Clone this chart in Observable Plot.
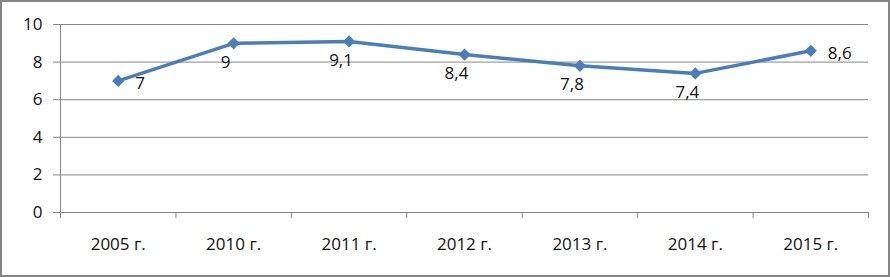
<!DOCTYPE html>
<html>
<head>
<meta charset="utf-8">
<script src="https://cdn.jsdelivr.net/npm/d3@7"></script>
<script src="https://cdn.jsdelivr.net/npm/@observablehq/plot@0.6"></script>
<style>
  html, body { margin: 0; padding: 0; background: #fff; }
  svg { display: block; outline: 2px solid #858585; outline-offset: -2px; }
</style>
</head>
<body>
<div id="chart"></div>
<script>
const categories = ["2005 г.", "2010 г.", "2011 г.", "2012 г.", "2013 г.", "2014 г.", "2015 г."];
const values = [7, 9, 9.1, 8.4, 7.8, 7.4, 8.6];
const valueLabels = ["7", "9", "9,1", "8,4", "7,8", "7,4", "8,6"];
const yTicks = [0, 2, 4, 6, 8, 10];

const data = categories.map((c, i) => ({ i, x: i + 0.5, cat: c, v: values[i], label: valueLabels[i] }));
const sideLabels = data.filter(d => d.i === 0 || d.i === categories.length - 1);
const belowLabels = data.filter(d => !(d.i === 0 || d.i === categories.length - 1));

const blue = "#4A7EBB";
const grid = "#868686";
const font = "'Open Sans', sans-serif";
const fs = 17;

const chart = Plot.plot({
  width: 890,
  height: 277,
  marginLeft: 60,
  marginRight: 22,
  marginTop: 24,
  marginBottom: 65,
  style: { fontFamily: font, fontSize: fs + "px", color: "#111", background: "#fff" },
  x: { type: "linear", domain: [0, categories.length] },
  y: { domain: [0, 10] },
  marks: [
    Plot.ruleY(yTicks, { stroke: grid, strokeWidth: 1 }),
    Plot.ruleX([0], { stroke: grid, strokeWidth: 1 }),
    Plot.axisY({ ticks: yTicks, tickSize: 7, tickPadding: 11, stroke: grid, label: null, fontSize: fs }),
    Plot.axisX({ ticks: d3.range(categories.length + 1), tickSize: 6, stroke: grid, tickFormat: () => "", label: null }),
    Plot.axisX({ ticks: data.map(d => d.x), tickSize: 0, tickPadding: 25, tickFormat: (t) => categories[Math.floor(t)], label: null, fontSize: fs }),
    Plot.line(data, { x: "x", y: "v", stroke: blue, strokeWidth: 3.5 }),
    Plot.dot(data, { x: "x", y: "v", symbol: "diamond2", r: 5.5, fill: blue, stroke: null }),
    Plot.text(sideLabels, { x: "x", y: "v", text: "label", textAnchor: "start", dx: 17, dy: 3, fontSize: fs, fill: "#111" }),
    Plot.text(belowLabels, { x: "x", y: "v", text: "label", textAnchor: "middle", dx: -8, dy: 19, fontSize: fs, fill: "#111" })
  ]
});
document.getElementById("chart").appendChild(chart);
</script>
</body>
</html>
